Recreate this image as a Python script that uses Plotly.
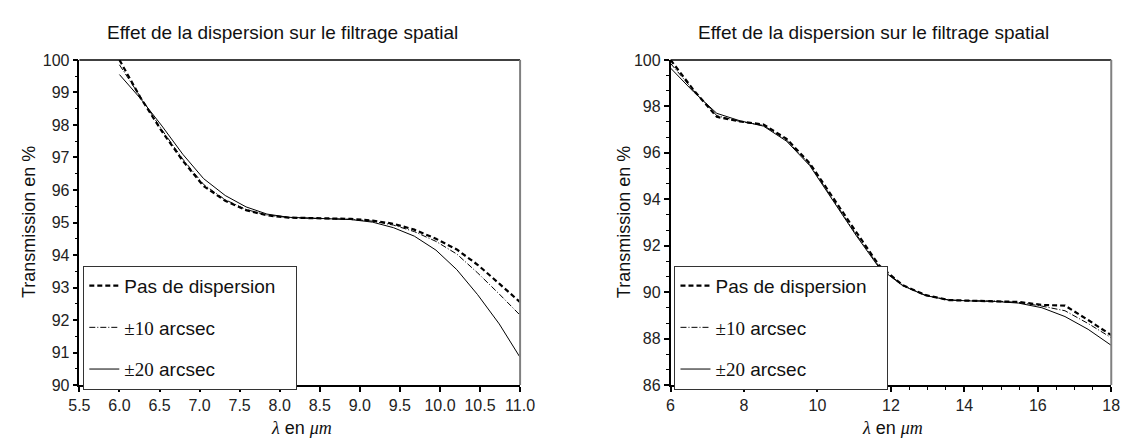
import plotly.graph_objects as go

# ---------------- data ----------------
lam_left = [6.0, 6.26, 6.53, 6.79, 7.05, 7.32, 7.58, 7.84, 8.11, 8.37,
            8.63, 8.89, 9.16, 9.42, 9.68, 9.95, 10.21, 10.47, 10.74, 11.0]
left_nodisp = [100.0, 98.85, 97.8, 96.9, 96.12, 95.67, 95.38, 95.22, 95.15, 95.13,
               95.12, 95.11, 95.06, 94.96, 94.78, 94.5, 94.17, 93.7, 93.12, 92.55]
left_pm10 = [99.85, 98.85, 97.85, 96.95, 96.17, 95.7, 95.4, 95.23, 95.15, 95.13,
             95.12, 95.1, 95.04, 94.92, 94.72, 94.42, 94.03, 93.45, 92.8, 92.15]
left_pm20 = [99.55, 98.82, 97.97, 97.1, 96.35, 95.83, 95.48, 95.26, 95.16, 95.13,
             95.12, 95.09, 95.01, 94.84, 94.58, 94.15, 93.55, 92.78, 91.88, 90.85]

lam_right = [6.0, 6.63, 7.26, 7.89, 8.53, 9.16, 9.79, 10.42, 11.05, 11.68,
             12.32, 12.95, 13.58, 14.21, 14.84, 15.47, 16.11, 16.74, 17.37, 18.0]
right_nodisp = [100.0, 98.7, 97.55, 97.35, 97.22, 96.6, 95.55, 94.05, 92.6, 91.15,
                90.3, 89.87, 89.66, 89.63, 89.62, 89.58, 89.45, 89.42, 88.8, 88.15]
right_pm10 = [99.85, 98.68, 97.6, 97.35, 97.18, 96.55, 95.5, 94.0, 92.5, 91.1,
              90.3, 89.86, 89.66, 89.63, 89.62, 89.56, 89.4, 89.2, 88.65, 88.04]
right_pm20 = [99.65, 98.62, 97.7, 97.38, 97.15, 96.5, 95.45, 93.95, 92.45, 91.05,
              90.28, 89.85, 89.66, 89.62, 89.6, 89.53, 89.33, 88.95, 88.4, 87.71]

title_text = "Effet de la dispersion sur le filtrage spatial"
ytitle = "Transmission en %"
SERIF = "Liberation Serif, DejaVu Serif, serif"
SANS = "Liberation Sans, Arial, sans-serif"
NB = "\u00a0" * 3
names = ["Pas de dispersion" + NB,
         f"<span style='font-family:{SERIF}'>±10</span> arcsec",
         f"<span style='font-family:{SERIF}'>±20</span> arcsec"]
styles = [dict(width=2.2, dash="5px,3px"),
          dict(width=1, dash="6px,2px,1px,2px"),
          dict(width=1, dash="solid")]

W, H = 1137, 446
fig = go.Figure()

for lam, series, xa, ya, lg, pref in [
    (lam_left, [left_nodisp, left_pm10, left_pm20], "x", "y", "legend", "l"),
    (lam_right, [right_nodisp, right_pm10, right_pm20], "x2", "y2", "legend2", "r"),
]:
    for i, (vals, nm, st) in enumerate(zip(series, names, styles)):
        fig.add_trace(go.Scatter(
            x=lam, y=vals, mode="lines", name=nm,
            line=dict(color="black", **st),
            xaxis=xa, yaxis=ya, legend=lg, legendgroup=f"{pref}{i}",
        ))

def px_x(p):
    return p / W

def px_y(p):
    return 1 - p / H

top, bot = 54, 392
ax_common = dict(showline=True, linecolor="black", linewidth=1.5, ticks="outside",
                 ticklen=5, tickwidth=1.5, tickcolor="black", showgrid=False,
                 zeroline=False, tickfont=dict(family=SANS, size=16, color="#222"))
minor_style = dict(ticklen=3, tickcolor="black", ticks="outside", tickwidth=1)

legend_style = dict(xanchor="left", yanchor="top", bordercolor="#333", borderwidth=1,
                    bgcolor="white", font=dict(family=SANS, size=19, color="#111"),
                    tracegroupgap=14, itemwidth=30)

fig.update_layout(
    width=W, height=H, margin=dict(l=0, r=0, t=0, b=0),
    paper_bgcolor="white", plot_bgcolor="white",
    xaxis=dict(domain=[px_x(70), px_x(521)], range=[5.5, 11.0], dtick=0.5, tick0=5.5,
               tickformat=".1f", anchor="y", **ax_common),
    yaxis=dict(domain=[px_y(bot), px_y(top)], range=[90, 100], dtick=1, tick0=90,
               anchor="x", minor=dict(dtick=0.5, **minor_style), **ax_common),
    xaxis2=dict(domain=[px_x(675), px_x(1126)], range=[6, 18], dtick=2, tick0=6,
                anchor="y2", minor=dict(dtick=0.5, **minor_style), **ax_common),
    yaxis2=dict(domain=[px_y(bot), px_y(top)], range=[86, 100], dtick=2, tick0=86,
                anchor="x2", minor=dict(dtick=2/3, tick0=86, **minor_style), **ax_common),
    legend=dict(x=px_x(74), y=px_y(268), **legend_style),
    legend2=dict(x=px_x(679), y=px_y(268), **legend_style),
    showlegend=True,
)

# frame: top black, right gray
for xr, yr in [("x domain", "y domain"), ("x2 domain", "y2 domain")]:
    fig.add_shape(type="line", xref=xr, yref=yr, x0=0, x1=1, y0=1, y1=1,
                  line=dict(color="black", width=1.5))
    fig.add_shape(type="line", xref=xr, yref=yr, x0=1, x1=1, y0=0, y1=1,
                  line=dict(color="#808080", width=2))

# titles
for cx in [278, 883]:
    fig.add_annotation(text=title_text, x=px_x(cx), y=px_y(25), xref="paper", yref="paper",
                       xanchor="center", yanchor="middle", showarrow=False,
                       font=dict(family=SANS, size=19, color="#111"))
for cx in [297, 902]:
    fig.add_annotation(text=f"<span style='font-family:{SERIF}'><i>λ</i></span> en "
                            f"<span style='font-family:{SERIF}'><i>μm</i></span>",
                       x=px_x(cx), y=px_y(437), xref="paper", yref="paper",
                       xanchor="center", yanchor="middle", showarrow=False,
                       font=dict(family=SANS, size=18, color="#111"))
for cx in [18, 627]:
    fig.add_annotation(text=ytitle, x=px_x(cx), y=px_y(223), xref="paper", yref="paper",
                       xanchor="center", yanchor="middle", showarrow=False, textangle=-90,
                       font=dict(family=SANS, size=18, color="#111"))

fig.write_html("out.html")
